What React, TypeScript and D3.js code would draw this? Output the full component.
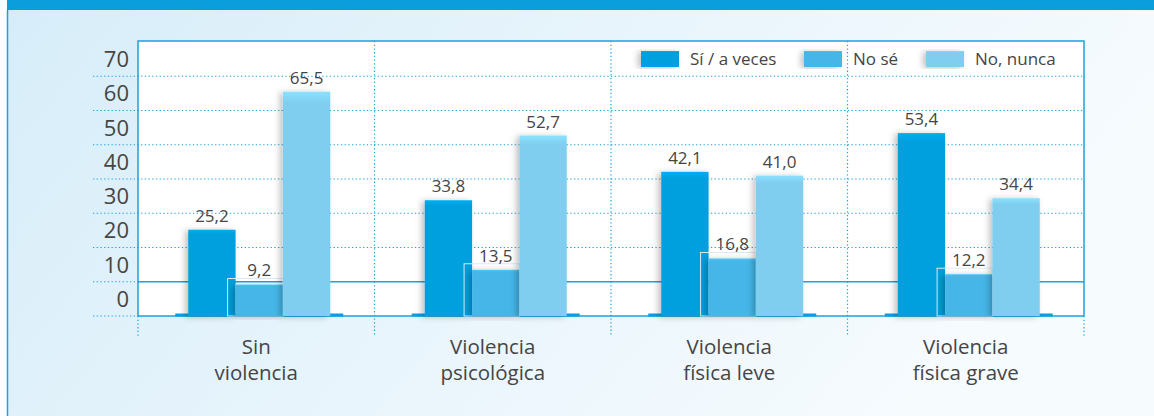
import * as d3 from "d3";

const categories = ["Sin violencia", "Violencia psicológica", "Violencia física leve", "Violencia física grave"];
const categoryLines = [
  ["Sin", "violencia"],
  ["Violencia", "psicológica"],
  ["Violencia", "física leve"],
  ["Violencia", "física grave"],
];
const seriesNames = ["Sí / a veces", "No sé", "No, nunca"];
const siAVeces = [25.2, 33.8, 42.1, 53.4];
const noSe = [9.2, 13.5, 16.8, 12.2];
const noNunca = [65.5, 52.7, 41.0, 34.4];
const yTicks = [0, 10, 20, 30, 40, 50, 60, 70];

const seriesValues = [siAVeces, noSe, noNunca];
const colors = ["#059fdd", "#45b6e7", "#80ceef"];
const textColor = "#454545";
const lineBlue = "#1aa3df";
const font = "'Open Sans', 'Noto Sans', sans-serif";

const W = 1154;
const H = 416;
const left = 138;
const right = 1084;
const top = 41;
const bottom = 316;

const fmt = (v: number) => d3.format(".1f")(v).replace(".", ",");

export default function App() {
  const x = d3.scaleBand<string>().domain(categories).range([left, right]);
  const y = d3.scaleLinear().domain([0, 80]).range([bottom, top + 1]);
  const sub = d3.scaleBand<string>().domain(seriesNames).range([-71, 71]);
  const center = (c: string) => (x(c) ?? 0) + x.bandwidth() / 2 + 3;

  const legendX = [641, 804, 926];

  return (
    <div style={{ position: "absolute", left: 0, top: 0 }}>
      <svg width={W} height={H} viewBox={`0 0 ${W} ${H}`} style={{ display: "block" }}>
        <defs>
          <linearGradient id="bg" x1="0%" y1="0%" x2="100%" y2="30%">
            <stop offset="0%" stopColor="#d6edf9" />
            <stop offset="55%" stopColor="#e9f5fc" />
            <stop offset="100%" stopColor="#f6fbfe" />
          </linearGradient>
          {colors.map((c, i) => (
            <linearGradient key={i} id={`bar${i}`} x1="0" y1="0" x2="0" y2="1">
              <stop offset="0%" stopColor={d3.color(c)!.brighter(0.25).formatHex()} />
              <stop offset="5%" stopColor={c} />
              <stop offset="100%" stopColor={c} />
            </linearGradient>
          ))}
          <filter id="shadow" x="-30%" y="-10%" width="160%" height="120%">
            <feDropShadow dx="-3" dy="1" stdDeviation="3" floodColor="#000" floodOpacity="0.25" />
          </filter>
        </defs>

        {/* page background */}
        <rect x={0} y={0} width={W} height={H} fill="#fbfdfe" />
        <rect x={7} y={0} width={W - 7} height={H} fill="url(#bg)" />
        <rect x={7} y={0} width={W - 7} height={10} fill="#0a9fdc" />
        <line x1={7.5} x2={7.5} y1={10} y2={H} stroke={lineBlue} strokeWidth={1.5} />

        {/* plot area */}
        <rect x={left} y={top} width={right - left} height={bottom - top} fill="#fff" />

        {/* horizontal grid */}
        {yTicks.slice(1).map((t) => (
          <line
            key={t}
            x1={t === 10 ? left : 93}
            x2={right}
            y1={y(t)}
            y2={y(t)}
            stroke={lineBlue}
            strokeWidth={t === 10 ? 1.3 : 1.2}
            strokeDasharray={t === 10 ? undefined : "1.3 2.4"}
          />
        ))}
        <line x1={93} x2={left} y1={y(10)} y2={y(10)} stroke={lineBlue} strokeWidth={1.2} strokeDasharray="1.3 2.4" />
        <line x1={93} x2={left} y1={bottom} y2={bottom} stroke={lineBlue} strokeWidth={1.2} strokeDasharray="1.3 2.4" />

        {/* vertical separators */}
        {categories.slice(1).map((c) => (
          <line
            key={c}
            x1={x(c)}
            x2={x(c)}
            y1={top}
            y2={336}
            stroke={lineBlue}
            strokeWidth={1.2}
            strokeDasharray="1.3 2.4"
          />
        ))}
        <line x1={left} x2={left} y1={bottom} y2={336} stroke={lineBlue} strokeWidth={1.2} strokeDasharray="1.3 2.4" />
        <line x1={right} x2={right} y1={bottom} y2={336} stroke={lineBlue} strokeWidth={1.2} strokeDasharray="1.3 2.4" />

        {/* frame */}
        <rect x={left} y={top} width={right - left} height={bottom - top} fill="none" stroke={lineBlue} strokeWidth={1.5} />

        {/* y tick labels */}
        {yTicks.map((t) => (
          <text
            key={t}
            x={129}
            y={y(t + 5)}
            dy="0.36em"
            textAnchor="end"
            fontFamily={font}
            fontSize={22}
            fill={textColor}
          >
            {t}
          </text>
        ))}

        {/* bars */}
        {categories.map((c, ci) => {
          const cx = center(c);
          return (
            <g key={c}>
              <line
                x1={cx - 84}
                x2={cx + 84}
                y1={bottom - 1}
                y2={bottom - 1}
                stroke="#0a9fdc"
                strokeWidth={3}
              />
              {seriesNames.map((s, si) => {
                const v = seriesValues[si][ci];
                const bx = cx + (sub(s) ?? 0);
                return (
                  <g key={s}>
                    {si === 1 && (
                      <rect
                        x={bx - 8}
                        y={y(v) - 6}
                        width={sub.bandwidth() + 8}
                        height={bottom - y(v) + 6}
                        fill="none"
                        stroke="#dbeaf1"
                        strokeWidth={1}
                      />
                    )}
                    <rect
                      x={bx}
                      y={y(v)}
                      width={sub.bandwidth()}
                      height={bottom - y(v)}
                      fill={`url(#bar${si})`}
                      filter="url(#shadow)"
                    />
                    <text
                      x={bx + sub.bandwidth() / 2}
                      y={y(v) - 8}
                      textAnchor="middle"
                      fontFamily={font}
                      fontSize={17}
                      fill={textColor}
                    >
                      {fmt(v)}
                    </text>
                  </g>
                );
              })}
            </g>
          );
        })}

        {/* category labels */}
        {categories.map((c, ci) => (
          <text
            key={c}
            x={(x(c) ?? 0) + x.bandwidth() / 2}
            y={354}
            textAnchor="middle"
            fontFamily={font}
            fontSize={20.5}
            fill={textColor}
          >
            {categoryLines[ci].map((l, li) => (
              <tspan key={li} x={(x(c) ?? 0) + x.bandwidth() / 2} dy={li === 0 ? 0 : 26}>
                {l}
              </tspan>
            ))}
          </text>
        ))}

        {/* legend */}
        {seriesNames.map((s, i) => (
          <g key={s} transform={`translate(${legendX[i]},51)`}>
            <rect width={38} height={16} fill={`url(#bar${i})`} filter="url(#shadow)" />
            <text x={49} y={8} dy="0.36em" fontFamily={font} fontSize={17} fill={textColor}>
              {s}
            </text>
          </g>
        ))}
      </svg>
    </div>
  );
}
